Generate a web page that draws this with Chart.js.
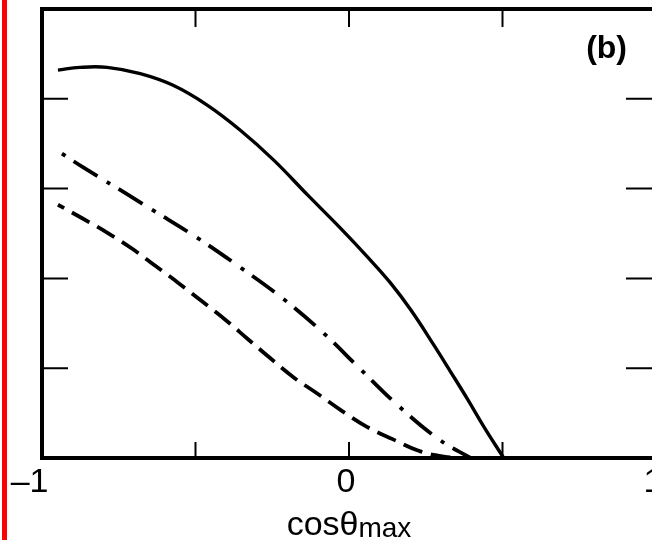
<!DOCTYPE html>
<html>
<head>
<meta charset="utf-8">
<script src="https://cdn.jsdelivr.net/npm/chart.js@4"></script>
<style>
  html, body { margin: 0; padding: 0; background: #fff; overflow: hidden; width: 652px; height: 540px; }
  #wrap { position: absolute; left: 0; top: 0; width: 680px; height: 540px; }
</style>
</head>
<body>
<div id="wrap"><canvas id="c" width="680" height="540"></canvas></div>
<script>
// x tick labels (only the integer positions carry text)
const tickValues = [-1, 0, 1];
const tickLabels = ['\u20131', '0', '1'];

// solid curve
const solidX = [-0.948, -0.876, -0.788, -0.680, -0.573, -0.462, -0.354, -0.246, -0.135, -0.028, 0.060, 0.135, 0.201, 0.276, 0.331, 0.387, 0.439, 0.504];
const solidY = [4.32, 4.35, 4.35, 4.28, 4.15, 3.93, 3.65, 3.32, 2.93, 2.56, 2.24, 1.95, 1.65, 1.26, 0.96, 0.65, 0.35, 0];

// dash-dot curve
const dashDotX = [-0.935, -0.863, -0.719, -0.644, -0.498, -0.357, -0.217, -0.086, 0.031, 0.158, 0.292, 0.396];
const dashDotY = [3.39, 3.23, 2.93, 2.77, 2.46, 2.13, 1.78, 1.40, 1.01, 0.59, 0.21, 0];

// dashed curve
const dashedX = [-0.948, -0.869, -0.788, -0.706, -0.631, -0.556, -0.481, -0.403, -0.328, -0.256, -0.181, -0.100, -0.021, 0.057, 0.142, 0.227, 0.299, 0.347];
const dashedY = [2.82, 2.67, 2.51, 2.33, 2.14, 1.95, 1.75, 1.54, 1.32, 1.11, 0.90, 0.71, 0.52, 0.35, 0.21, 0.08, 0.02, 0];

const FONT = '"Liberation Sans", Arial, Helvetica, sans-serif';

function toPoints(xs, ys) {
  return xs.map((x, i) => ({ x: x, y: ys[i] }));
}

// page background and the red rule at the left edge
const backdrop = {
  id: 'backdrop',
  beforeDraw(chart) {
    const ctx = chart.ctx;
    ctx.save();
    ctx.fillStyle = '#fff';
    ctx.fillRect(0, 0, chart.width, chart.height);
    ctx.fillStyle = '#ff0000';
    ctx.fillRect(2, 0, 5, chart.height);
    ctx.restore();
  }
};

// box frame, inward tick marks, panel letter and the axis title with subscript
const frame = {
  id: 'frame',
  afterDatasetsDraw(chart) {
    const { ctx, chartArea: a, scales: { x, y } } = chart;
    ctx.save();
    ctx.strokeStyle = '#000';
    ctx.lineCap = 'butt';

    ctx.lineWidth = 2;
    ctx.beginPath();
    x.ticks.forEach(t => {
      const px = x.getPixelForValue(t.value);
      ctx.moveTo(px, a.bottom); ctx.lineTo(px, a.bottom - 16);
      ctx.moveTo(px, a.top); ctx.lineTo(px, a.top + 18);
    });
    y.ticks.forEach(t => {
      const py = y.getPixelForValue(t.value);
      ctx.moveTo(a.left, py); ctx.lineTo(a.left + 26, py);
      ctx.moveTo(a.right, py); ctx.lineTo(a.right - 30, py);
    });
    ctx.stroke();

    ctx.lineWidth = 4;
    ctx.strokeRect(a.left, a.top, a.right - a.left, a.bottom - a.top);

    ctx.fillStyle = '#000';
    ctx.font = 'bold 32px ' + FONT;
    ctx.textAlign = 'right';
    ctx.textBaseline = 'alphabetic';
    ctx.fillText('(b)', a.right - 29, 58);

    const mainFont = '34px ' + FONT;
    const subFont = '28px ' + FONT;
    ctx.font = mainFont;
    const w1 = ctx.measureText('cos\u03b8').width;
    ctx.font = subFont;
    const w2 = ctx.measureText('max').width;
    const cx = (x.left + x.right) / 2;
    const start = cx - (w1 + w2) / 2;
    ctx.textAlign = 'left';
    ctx.font = mainFont;
    ctx.fillText('cos\u03b8', start, 535);
    ctx.font = subFont;
    ctx.fillText('max', start + w1, 537);
    ctx.restore();
  }
};

new Chart(document.getElementById('c'), {
  type: 'line',
  data: {
    datasets: [
      {
        data: toPoints(solidX, solidY),
        borderColor: '#000',
        borderWidth: 3.4,
        pointRadius: 0,
        tension: 0.4
      },
      {
        data: toPoints(dashDotX, dashDotY),
        borderColor: '#000',
        borderWidth: 3.8,
        borderDash: [4, 10, 28, 11],
        borderCapStyle: 'butt',
        pointRadius: 0,
        tension: 0.4
      },
      {
        data: toPoints(dashedX, dashedY),
        borderColor: '#000',
        borderWidth: 3.8,
        borderDash: [20, 9],
        borderDashOffset: 13,
        borderCapStyle: 'butt',
        pointRadius: 0,
        tension: 0.4
      }
    ]
  },
  options: {
    responsive: false,
    animation: false,
    devicePixelRatio: 1,
    layout: { padding: { left: 42, right: 24, top: 9, bottom: 0 } },
    plugins: { legend: { display: false }, tooltip: { enabled: false } },
    scales: {
      x: {
        type: 'linear',
        min: -1,
        max: 1,
        grid: { display: false, drawTicks: false },
        border: { display: false },
        afterFit: (scale) => { scale.height = 82; },
        ticks: {
          stepSize: 0.5,
          padding: 4,
          labelOffset: -3,
          color: '#000',
          maxRotation: 0,
          autoSkip: false,
          font: { family: FONT, size: 34 },
          callback: (value) => {
            const i = tickValues.indexOf(value);
            if (i < 0) return '';
            // trailing spaces keep the digit, not the sign, centred on the tick
            return value < 0 ? tickLabels[i] + '  ' : tickLabels[i];
          }
        }
      },
      y: {
        type: 'linear',
        display: false,
        min: 0,
        max: 5,
        ticks: { stepSize: 1 }
      }
    }
  },
  plugins: [backdrop, frame]
});
</script>
</body>
</html>
